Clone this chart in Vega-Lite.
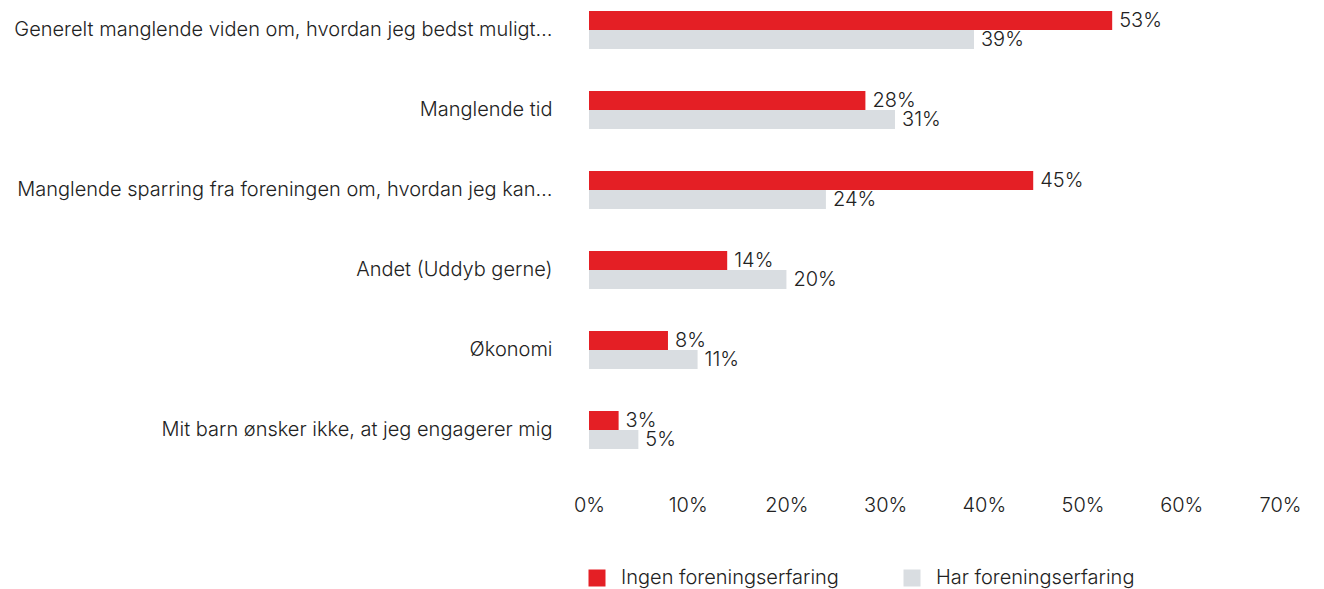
{
  "$schema": "https://vega.github.io/schema/vega-lite/v6.json",
  "autosize": {"type": "none"},
  "padding": {"left": 589, "top": 0, "right": 44, "bottom": 129},
  "width": 691,
  "height": 460,
  "background": "white",
  "config": {
    "view": {"stroke": null},
    "font": "Inter",
    "text": {"font": "Inter"}
  },
  "data": {
    "values": [
      {"category": "Generelt manglende viden om, hvordan jeg bedst muligt…", "group": "Ingen foreningserfaring", "value": 53, "label": "53%"},
      {"category": "Generelt manglende viden om, hvordan jeg bedst muligt…", "group": "Har foreningserfaring", "value": 39, "label": "39%"},
      {"category": "Manglende tid", "group": "Ingen foreningserfaring", "value": 28, "label": "28%"},
      {"category": "Manglende tid", "group": "Har foreningserfaring", "value": 31, "label": "31%"},
      {"category": "Manglende sparring fra foreningen om, hvordan jeg kan…", "group": "Ingen foreningserfaring", "value": 45, "label": "45%"},
      {"category": "Manglende sparring fra foreningen om, hvordan jeg kan…", "group": "Har foreningserfaring", "value": 24, "label": "24%"},
      {"category": "Andet (Uddyb gerne)", "group": "Ingen foreningserfaring", "value": 14, "label": "14%"},
      {"category": "Andet (Uddyb gerne)", "group": "Har foreningserfaring", "value": 20, "label": "20%"},
      {"category": "Økonomi", "group": "Ingen foreningserfaring", "value": 8, "label": "8%"},
      {"category": "Økonomi", "group": "Har foreningserfaring", "value": 11, "label": "11%"},
      {"category": "Mit barn ønsker ikke, at jeg engagerer mig", "group": "Ingen foreningserfaring", "value": 3, "label": "3%"},
      {"category": "Mit barn ønsker ikke, at jeg engagerer mig", "group": "Har foreningserfaring", "value": 5, "label": "5%"}
    ]
  },
  "encoding": {
    "y": {
      "field": "category",
      "type": "nominal",
      "sort": null,
      "scale": {"paddingInner": 0.525, "paddingOuter": 0.1375},
      "axis": {
        "title": null,
        "domain": false,
        "ticks": false,
        "labelPadding": 37,
        "labelFontSize": 20,
        "labelColor": "#222222",
        "labelLimit": 700,
        "labelFont": "Inter",
        "labelFontWeight": 300
      }
    },
    "yOffset": {
      "field": "group",
      "type": "nominal",
      "sort": ["Ingen foreningserfaring", "Har foreningserfaring"],
      "scale": {"paddingInner": 0, "paddingOuter": 0}
    },
    "x": {
      "field": "value",
      "type": "quantitative",
      "scale": {"domain": [0, 70]},
      "axis": {
        "title": null,
        "domain": false,
        "ticks": false,
        "grid": false,
        "values": [0, 10, 20, 30, 40, 50, 60, 70],
        "labelExpr": "datum.value + '%'",
        "labelFlush": false,
        "labelPadding": 35,
        "labelFontSize": 20,
        "labelColor": "#222222",
        "labelFont": "Inter",
        "labelFontWeight": 300
      }
    }
  },
  "layer": [
    {
      "mark": {"type": "bar"},
      "encoding": {
        "color": {
          "field": "group",
          "type": "nominal",
          "sort": ["Ingen foreningserfaring", "Har foreningserfaring"],
          "scale": {
            "domain": ["Ingen foreningserfaring", "Har foreningserfaring"],
            "range": ["#e41f25", "#d9dde1"]
          },
          "legend": {
            "title": null,
            "orient": "none",
            "direction": "horizontal",
            "legendX": -2,
            "legendY": 568,
            "symbolType": "square",
            "symbolSize": 289,
            "symbolStrokeWidth": 0,
            "labelFontSize": 20,
            "labelColor": "#222222",
            "labelFont": "Inter",
            "labelFontWeight": 300,
            "labelOffset": 14,
            "labelLimit": 400,
            "columnPadding": 63
          }
        }
      }
    },
    {
      "mark": {"type": "text", "align": "left", "baseline": "middle", "dx": 7, "fontSize": 20, "color": "#222222", "fontWeight": 300, "font": "Inter"},
      "encoding": {
        "text": {"field": "label", "type": "nominal"}
      }
    }
  ]
}
